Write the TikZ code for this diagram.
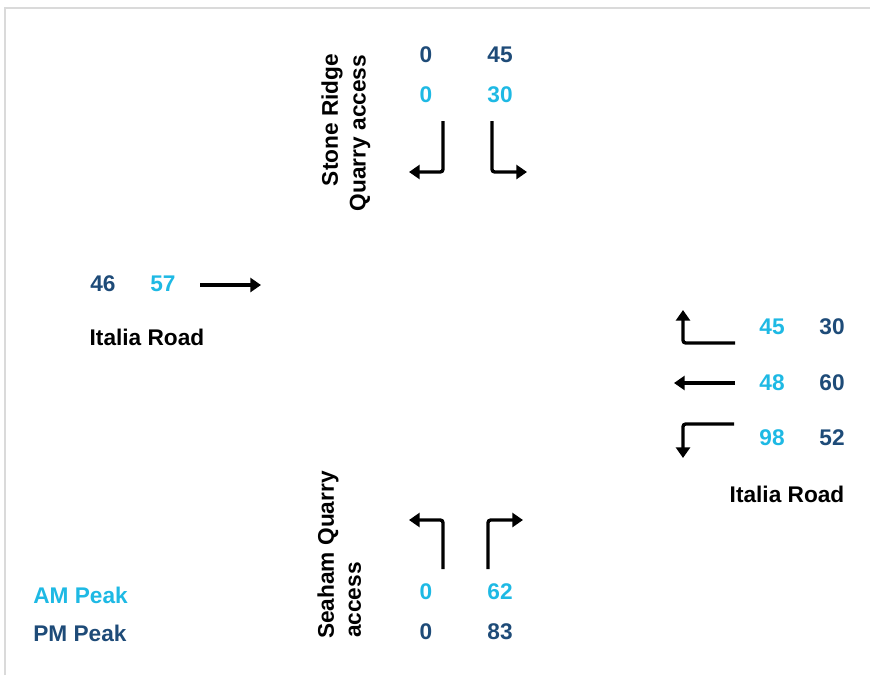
\documentclass[tikz,border=0pt]{standalone}
\usepackage{fontspec}
\setmainfont{Liberation Sans}
\usetikzlibrary{arrows.meta}
\definecolor{navy}{RGB}{30,75,120}
\definecolor{sky}{RGB}{30,185,228}
\definecolor{framegray}{RGB}{218,218,218}
\begin{document}
\begin{tikzpicture}[x=0.75pt,y=-0.75pt,
  lbl/.style={font=\fontsize{17}{20}\selectfont\bfseries, inner sep=0pt},
  am/.style={lbl, text=sky},
  pm/.style={lbl, text=navy},
  road/.style={lbl, text=black},
  mv/.style={draw=black, line width=2.5pt, rounded corners=2pt, -{Triangle[length=8pt,width=10.5pt]}}
]
\useasboundingbox (0,0) rectangle (870,675);
\draw[framegray, line width=1.5pt] (5,675) -- (5,8) -- (870,8);

% North approach (Stone Ridge)
\node[pm] (n0pm) at (426,55) {0};
\node[pm] (n45) at (500,55) {45};
\node[am] (n0am) at (426,95) {0};
\node[am] (n30) at (500,95) {30};
\node[road, rotate=90] (sr1) at (332,120) {Stone Ridge};
\node[road, rotate=90] (sr2) at (360,133) {Quarry access};
\coordinate (nlA) at (443,121);
\coordinate (nlC) at (443,172);
\coordinate (nlB) at (409,172);
\coordinate (nrA) at (492,121);
\coordinate (nrC) at (492,172);
\coordinate (nrB) at (527,172);
\draw[mv] (nlA) -- (nlC) -- (nlB);
\draw[mv] (nrA) -- (nrC) -- (nrB);

% West approach
\node[pm] (w46) at (103,284) {46};
\node[am] (w57) at (163,284) {57};
\coordinate (wA) at (200,285);
\coordinate (wB) at (261,285);
\draw[mv] (wA) -- (wB);
\node[road] (wroad) at (147,337) {Italia Road};

% East approach
\node[am] (e45) at (772,327) {45};
\node[pm] (e30) at (832,327) {30};
\node[am] (e48) at (772,383) {48};
\node[pm] (e60) at (832,383) {60};
\node[am] (e98) at (772,438) {98};
\node[pm] (e52) at (832,438) {52};
\node[road] (eroad) at (787,494) {Italia Road};
\coordinate (e1A) at (735,343);
\coordinate (e1C) at (683,343);
\coordinate (e1B) at (683,310);
\coordinate (e2A) at (735,383);
\coordinate (e2B) at (674,383);
\coordinate (e3A) at (734,424);
\coordinate (e3C) at (683,424);
\coordinate (e3B) at (683,458);
\draw[mv] (e1A) -- (e1C) -- (e1B);
\draw[mv] (e2A) -- (e2B);
\draw[mv] (e3A) -- (e3C) -- (e3B);

% South approach (Seaham)
\coordinate (slA) at (443,569);
\coordinate (slC) at (443,520);
\coordinate (slB) at (409,520);
\coordinate (srA) at (488,569);
\coordinate (srC) at (488,520);
\coordinate (srB) at (523,520);
\draw[mv] (slA) -- (slC) -- (slB);
\draw[mv] (srA) -- (srC) -- (srB);
\node[am] (s0am) at (426,592) {0};
\node[am] (s62) at (500,592) {62};
\node[pm] (s0pm) at (426,632) {0};
\node[pm] (s83) at (500,632) {83};
\node[road, rotate=90] (sq1) at (328,555) {Seaham Quarry};
\node[road, rotate=90] (sq2) at (355,600) {access};

% Legend
\node[am, anchor=west] (legam) at (33,595) {AM Peak};
\node[pm, anchor=west] (legpm) at (33,633) {PM Peak};
\end{tikzpicture}
\end{document}
